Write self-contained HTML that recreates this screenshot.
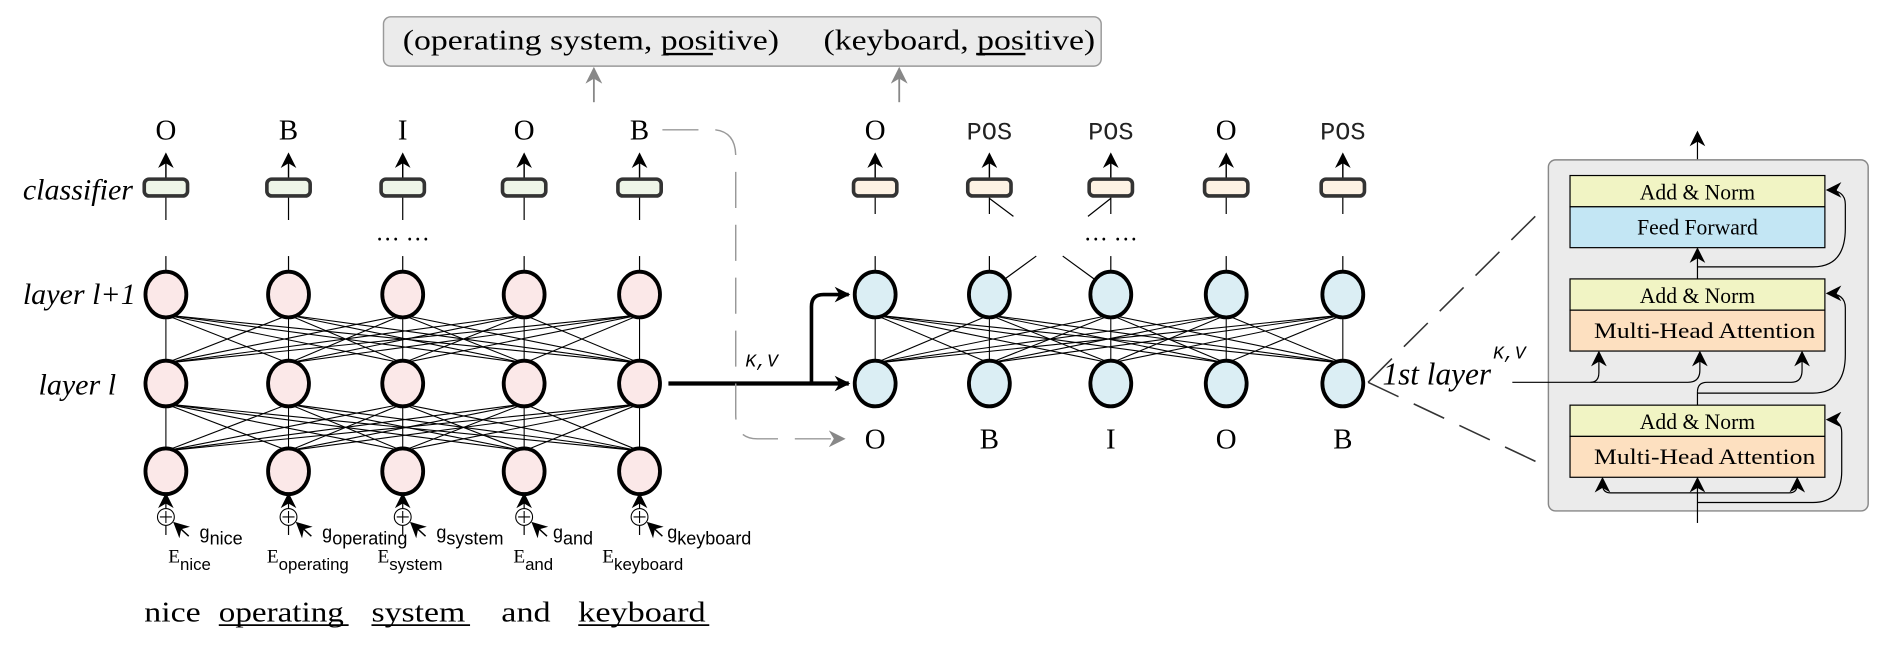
<!DOCTYPE html>
<html><head><meta charset="utf-8"><style>
html,body{margin:0;padding:0;background:#fff;}
svg{display:block}
.s{font-family:"Liberation Serif",serif;}
.m{font-family:"Liberation Mono",monospace;}
.a{font-family:"Liberation Sans",sans-serif;}
</style></head><body>
<svg id="g" width="1885" height="651" viewBox="0 0 1568 541.5" preserveAspectRatio="none" xmlns="http://www.w3.org/2000/svg">
<defs>
<marker id="ah" viewBox="0 0 10 10" refX="9" refY="5" markerWidth="7" markerHeight="7" orient="auto-start-reverse" markerUnits="userSpaceOnUse"><path d="M0,0 L10,5 L0,10 L3,5 z" fill="#000"/></marker>
<marker id="ah2" viewBox="0 0 10 10" refX="9" refY="5" markerWidth="14" markerHeight="13" orient="auto" markerUnits="userSpaceOnUse"><path d="M0,0 L10,5 L0,10 L3,5 z" fill="#000"/></marker>
<marker id="ahg" viewBox="0 0 10 10" refX="9" refY="5" markerWidth="14" markerHeight="14" orient="auto" markerUnits="userSpaceOnUse"><path d="M0,0 L10,5 L0,10 L3,5 z" fill="#888"/></marker>
</defs>
<rect x="319" y="14" width="597" height="41" rx="6" fill="#ebebeb" stroke="#999" stroke-width="1.2"/>
<text class="s" x="335" y="41" font-size="24" textLength="313" lengthAdjust="spacingAndGlyphs">(operating system, positive)</text>
<text class="s" x="685" y="41" font-size="24" textLength="226" lengthAdjust="spacingAndGlyphs">(keyboard, positive)</text>
<line x1="552" y1="45" x2="593" y2="45" stroke="#000" stroke-width="2"/>
<line x1="812" y1="45" x2="853" y2="45" stroke="#000" stroke-width="2"/>
<line x1="494" y1="85" x2="494" y2="57" stroke="#888" stroke-width="1.5" marker-end="url(#ahg)"/>
<line x1="748" y1="85" x2="748" y2="57" stroke="#888" stroke-width="1.5" marker-end="url(#ahg)"/>
<g id="net"></g>
<text class="s" x="19" y="166" font-size="25" font-style="italic">classifier</text>
<text class="s" x="19" y="253" font-size="25" font-style="italic">layer l+1</text>
<text class="s" x="32" y="328" font-size="25" font-style="italic">layer l</text>
<text class="s" x="335" y="200" font-size="20" text-anchor="middle">… …</text>
<text class="s" x="924" y="200" font-size="20" text-anchor="middle">… …</text>
<g class="s" font-size="24">
<text x="120" y="517" textLength="47" lengthAdjust="spacingAndGlyphs">nice</text>
<text x="182" y="517" textLength="104" lengthAdjust="spacingAndGlyphs">operating</text>
<text x="309" y="517" textLength="78" lengthAdjust="spacingAndGlyphs">system</text>
<text x="417" y="517" textLength="41" lengthAdjust="spacingAndGlyphs">and</text>
<text x="481" y="517" textLength="106" lengthAdjust="spacingAndGlyphs">keyboard</text>
</g>
<g stroke="#000" stroke-width="1.5">
<line x1="182" y1="520" x2="290" y2="520"/><line x1="309" y1="520" x2="391" y2="520"/><line x1="481" y1="520" x2="590" y2="520"/>
</g>
<path d="M556,319 L706,319" stroke="#000" stroke-width="3.5" fill="none" marker-end="url(#ah2)"/>
<path d="M675,319 L675,255 Q675,245 685,245 L706,245" stroke="#000" stroke-width="3" fill="none" marker-end="url(#ah2)"/>
<text class="m" x="620" y="305" font-size="15" font-style="italic">K,V</text>
<path d="M551,108 L595,108 Q612,110 612,130 L612,345 Q612,365 630,365 L702,365" stroke="#999" stroke-width="1.2" fill="none" stroke-dasharray="30,14" marker-end="url(#ahg)"/>
<text class="s" x="1150" y="320" font-size="26" font-style="italic">1st layer</text>
<text class="m" x="1242" y="298" font-size="15" font-style="italic">K,V</text>
<line x1="1138" y1="318" x2="1282" y2="175" stroke="#333" stroke-width="1.3" stroke-dasharray="28,14"/>
<line x1="1138" y1="318" x2="1282" y2="386" stroke="#333" stroke-width="1.3" stroke-dasharray="28,14"/>
<line x1="1412" y1="133" x2="1412" y2="110" stroke="#000" stroke-width="1" marker-end="url(#ah2)"/>
<rect x="1288" y="133" width="266" height="292" rx="6" fill="#ebebeb" stroke="#888" stroke-width="1.2"/>
<g stroke="#000" stroke-width="1">
<rect x="1306" y="146" width="212" height="26" fill="#f1f4c4"/>
<rect x="1306" y="172" width="212" height="34" fill="#c3e6f4"/>
<rect x="1306" y="232" width="212" height="26" fill="#f1f4c4"/>
<rect x="1306" y="258" width="212" height="34" fill="#fde0c0"/>
<rect x="1306" y="337" width="212" height="26" fill="#f1f4c4"/>
<rect x="1306" y="363" width="212" height="34" fill="#fde0c0"/>
</g>
<g class="s" font-size="18" text-anchor="middle">
<text x="1412" y="166">Add &amp; Norm</text><text x="1412" y="195">Feed Forward</text>
<text x="1412" y="252">Add &amp; Norm</text><text x="1418" y="281" textLength="184" lengthAdjust="spacingAndGlyphs">Multi-Head Attention</text>
<text x="1412" y="357">Add &amp; Norm</text><text x="1418" y="386" textLength="184" lengthAdjust="spacingAndGlyphs">Multi-Head Attention</text>
</g>
<g stroke="#000" stroke-width="1" fill="none">
<line x1="1412" y1="232" x2="1412" y2="207" marker-end="url(#ah2)"/>
<path d="M1412,222 L1508,222 Q1535,222 1535,190 L1535,170 Q1535,158 1520,158" marker-end="url(#ah2)"/>
<line x1="1258" y1="318" x2="1330" y2="318"/>
<path d="M1323,318 Q1330,318 1330,310 L1330,293" marker-end="url(#ah2)"/>
<path d="M1330,318 L1404,318 Q1414,318 1414,308 L1414,293" marker-end="url(#ah2)"/>
<line x1="1412" y1="337" x2="1412" y2="326"/>
<path d="M1412,326 Q1412,318 1420,318 L1490,318 Q1499,318 1499,308 L1499,293" marker-end="url(#ah2)"/>
<path d="M1412,327 L1508,327 Q1535,327 1535,295 L1535,256 Q1535,244 1520,244" marker-end="url(#ah2)"/>
<line x1="1412" y1="435" x2="1412" y2="398" marker-end="url(#ah2)"/>
<path d="M1412,410 L1340,410 Q1333,410 1333,403 L1333,398" marker-end="url(#ah2)"/>
<path d="M1412,410 L1488,410 Q1495,410 1495,403 L1495,398" marker-end="url(#ah2)"/>
<path d="M1412,418 L1508,418 Q1532,418 1532,392 L1532,360 Q1532,349 1520,349" marker-end="url(#ah2)"/>
</g>
</svg>
<script>
var ns="http://www.w3.org/2000/svg",g=document.getElementById("net");
function el(t,a,txt){var e=document.createElementNS(ns,t);for(var k in a)e.setAttribute(k,a[k]);if(txt)e.textContent=txt;g.appendChild(e);return e;}
function fc(xs,y1,y2){xs.forEach(function(a){xs.forEach(function(b){el("line",{x1:a,y1:y1,x2:b,y2:y2,stroke:"#000","stroke-width":0.9});});});}
var L=[138,240,335,436,532],R=[728,823,924,1020,1117];
fc(L,262,302);fc(L,336,375);
L.forEach(function(x,i){
 el("line",{x1:x,y1:163,x2:x,y2:183,stroke:"#000","stroke-width":1});
 el("line",{x1:x,y1:213,x2:x,y2:228,stroke:"#000","stroke-width":1});
 el("line",{x1:x,y1:148,x2:x,y2:128,stroke:"#000","stroke-width":1.2,"marker-end":"url(#ah2)"});
 el("rect",{x:x-18,y:149,width:36,height:14,rx:4,fill:"#eef5e8",stroke:"#333","stroke-width":3});
 el("text",{x:x,y:116,"font-size":24,"text-anchor":"middle","class":"s"},"OBIOB"[i]);
 [245,319,392].forEach(function(y){el("ellipse",{cx:x,cy:y,rx:17,ry:19,fill:"#fbe8e8",stroke:"#000","stroke-width":3.2});});
 el("line",{x1:x,y1:445,x2:x,y2:411,stroke:"#000","stroke-width":1,"marker-end":"url(#ah2)"});
 el("circle",{cx:x,cy:430,r:7,fill:"#fff",stroke:"#000","stroke-width":0.9});
 el("path",{d:"M"+(x-5)+",430 h10 M"+x+",425 v10",stroke:"#000","stroke-width":0.9});
 el("line",{x1:x+19,y1:446,x2:x+7,y2:435,stroke:"#000","stroke-width":1.2,"marker-end":"url(#ah2)"});
});
var gl=[["nice",166],["operating",268],["system",363],["and",460],["keyboard",555]];
gl.forEach(function(p){var t=el("text",{x:p[1],y:448,"font-size":15,"class":"a"},"g");var s=document.createElementNS(ns,"tspan");s.setAttribute("dy","5");s.textContent=p[0];t.appendChild(s);});
var el2=[["nice",140],["operating",222],["system",314],["and",427],["keyboard",501]];
el2.forEach(function(p){var t=el("text",{x:p[1],y:468,"font-size":16,"class":"s"},"E");var s=document.createElementNS(ns,"tspan");s.setAttribute("dy","6");s.setAttribute("class","a");s.setAttribute("font-size","14");s.textContent=p[0];t.appendChild(s);});
fc(R,262,302);
var rl=["O","POS","POS","O","POS"];
R.forEach(function(x,i){
 el("line",{x1:x,y1:163,x2:x,y2:178,stroke:"#000","stroke-width":1});
 el("line",{x1:x,y1:213,x2:x,y2:228,stroke:"#000","stroke-width":1});
 el("line",{x1:x,y1:148,x2:x,y2:128,stroke:"#000","stroke-width":1.2,"marker-end":"url(#ah2)"});
 el("rect",{x:x-18,y:149,width:36,height:14,rx:4,fill:"#fdf2e4",stroke:"#333","stroke-width":3});
 if(rl[i]=="O") el("text",{x:x,y:116,"font-size":24,"text-anchor":"middle","class":"s"},"O");
 else el("text",{x:x,y:116,"font-size":21,"text-anchor":"middle","class":"m",fill:"#222"},"POS");
 [245,319].forEach(function(y){el("ellipse",{cx:x,cy:y,rx:17,ry:19,fill:"#dbeef4",stroke:"#000","stroke-width":3.2});});
 el("text",{x:x,y:373,"font-size":24,"text-anchor":"middle","class":"s"},"OBIOB"[i]);
});
el("line",{x1:823,y1:165,x2:843,y2:180,stroke:"#000","stroke-width":1});
el("line",{x1:924,y1:165,x2:905,y2:180,stroke:"#000","stroke-width":1});
el("line",{x1:836,y1:232,x2:862,y2:213,stroke:"#000","stroke-width":1});
el("line",{x1:910,y1:232,x2:884,y2:213,stroke:"#000","stroke-width":1});
</script>
</body></html>
